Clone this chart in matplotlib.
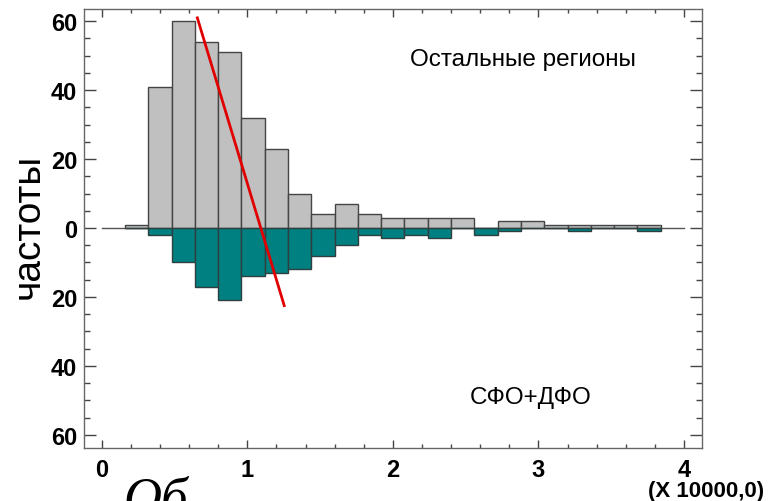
import numpy as np
import matplotlib
matplotlib.use("Agg")
import matplotlib.pyplot as plt
from matplotlib.ticker import MultipleLocator, FuncFormatter

# Histogram bins (in units of 10000)
bin_start = 0.16
bin_width = 0.16
# Frequencies, other regions (upper half)
other_regions = [1, 41, 60, 54, 51, 32, 23, 10, 4, 7, 4, 3, 3, 3, 3, 0, 2, 2, 1, 1, 1, 1, 1]
# Frequencies, Siberian + Far Eastern federal districts (lower half)
sfo_dfo = [0, 2, 10, 17, 21, 14, 13, 12, 8, 5, 2, 3, 2, 3, 0, 2, 1, 0, 0, 1, 0, 0, 1]
# Trend line end points
trend_x = [0.657, 1.254]
trend_y = [60.9, -22.5]

y_ticks = [-60, -40, -20, 0, 20, 40, 60]
x_ticks = [0, 1, 2, 3, 4]

plt.rcParams["font.family"] = ["Liberation Sans", "DejaVu Sans"]

fig = plt.figure(figsize=(7.70, 5.02), dpi=100)
ax = fig.add_axes([84 / 770, 1 - 449 / 502, 618 / 770, 439 / 502])

n = len(other_regions)
left_edges = bin_start + bin_width * np.arange(n)

ax.plot([0, 4], [0, 0], color="#555555", lw=1.0, zorder=1)
ax.bar(left_edges, other_regions, width=bin_width, align="edge",
       color="#c0c0c0", edgecolor="#454545", linewidth=1.0, zorder=2)
ax.bar(left_edges, -np.array(sfo_dfo), width=bin_width, align="edge",
       color="#008080", edgecolor="#2f3f3f", linewidth=1.0, zorder=2)
ax.plot(trend_x, trend_y, color="#e00000", lw=2.0, zorder=3)

ax.set_xlim(-0.1216, 4.1237)
ax.set_ylim(-63.77, 63.48)

ax.set_xticks(x_ticks)
ax.set_yticks(y_ticks)
ax.xaxis.set_minor_locator(MultipleLocator(0.2))
ax.yaxis.set_minor_locator(MultipleLocator(5))
ax.yaxis.set_major_formatter(FuncFormatter(lambda v, p: f"{abs(int(round(v)))}"))
ax.xaxis.set_major_formatter(FuncFormatter(lambda v, p: f"{int(round(v))}"))

ax.tick_params(axis="both", which="both", direction="in", top=True, right=True,
               color="#444444", width=1.0)
ax.tick_params(axis="y", which="major", length=8.6, pad=5)
ax.tick_params(axis="y", which="minor", length=4.3)
ax.tick_params(axis="x", which="major", length=5.8, pad=7)
ax.tick_params(axis="x", which="minor", length=2.9)
for lbl in ax.get_xticklabels() + ax.get_yticklabels():
    lbl.set_fontweight("bold")
    lbl.set_fontsize(17)

for sp in ax.spines.values():
    sp.set_color("#666666")
    sp.set_linewidth(1.0)

ax.text(0.71, 0.885, "Остальные регионы", transform=ax.transAxes,
        ha="center", va="center", fontsize=17.5)
ax.text(0.723, 0.117, "СФО+ДФО", transform=ax.transAxes,
        ha="center", va="center", fontsize=17.5)

fig.text(29 / 770, 1 - 226 / 502, "частоты", rotation=90,
         ha="center", va="center", fontsize=28)
fig.text(706 / 770, 1 - 492 / 502, "(X 10000,0)", ha="center", va="center",
         fontsize=16, fontweight="bold")
fig.text(123 / 770, 1 - 514 / 502, "Об", ha="left", va="baseline",
         fontsize=38, family=["Liberation Serif", "DejaVu Serif"], style="italic")

fig.savefig("out.png", dpi=100)
